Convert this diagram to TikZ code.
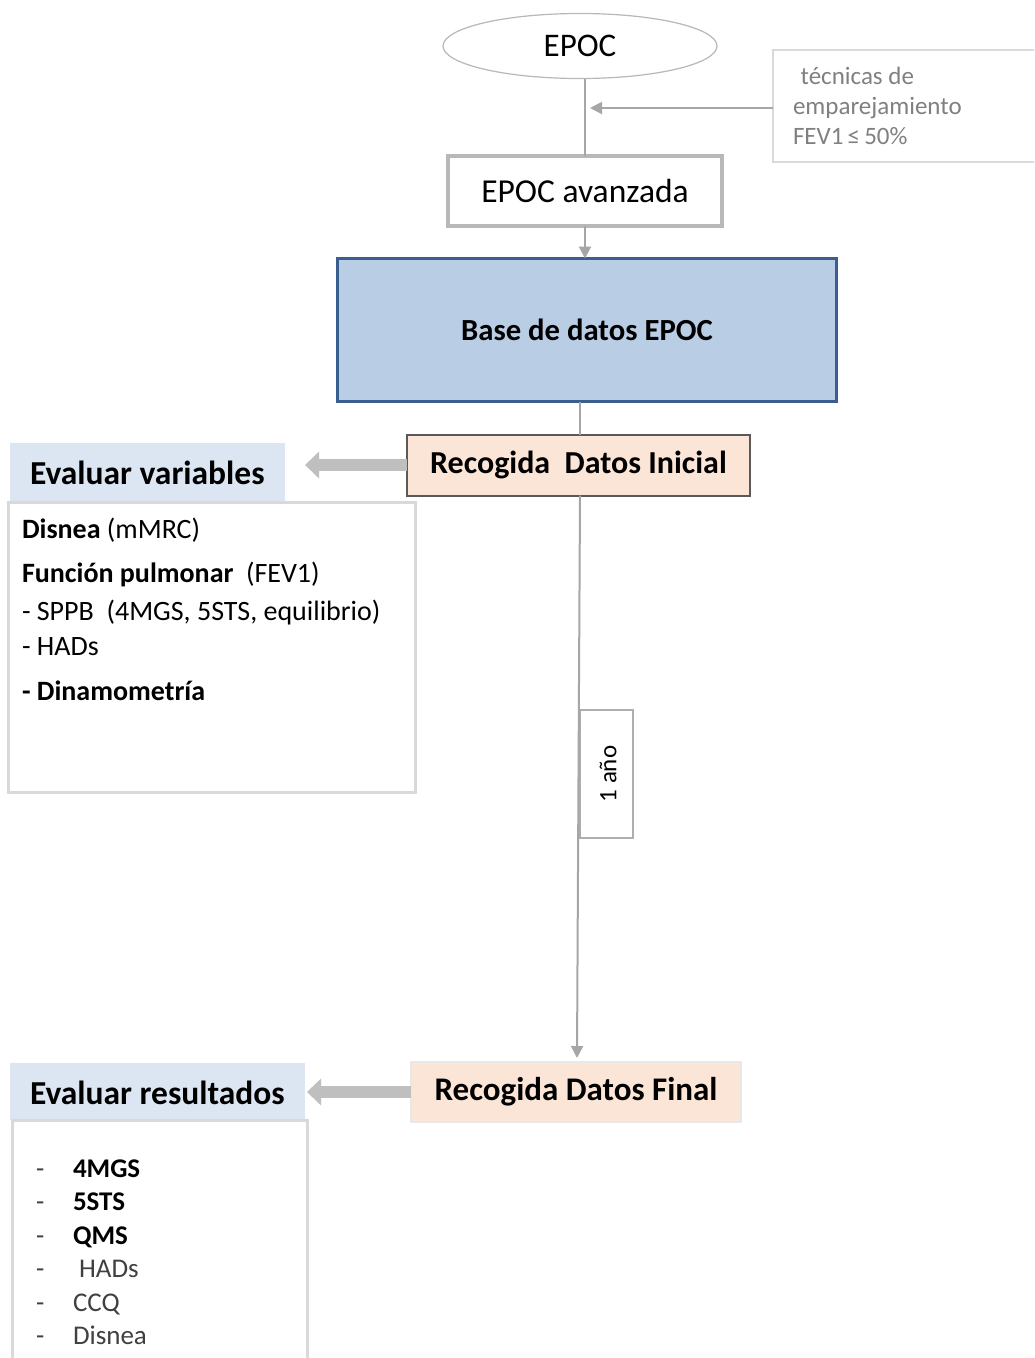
\documentclass[tikz,border=0pt]{standalone}
\usepackage{fontspec}
\setmainfont{Carlito}
\usetikzlibrary{arrows.meta,shapes.geometric}
\definecolor{linegray}{HTML}{A6A6A6}
\definecolor{notegray}{HTML}{D9D9D9}
\definecolor{notetext}{HTML}{808080}
\definecolor{dbfill}{HTML}{B9CDE5}
\definecolor{dbdraw}{HTML}{3A5F8F}
\definecolor{peach}{HTML}{FBE5D6}
\definecolor{headblue}{HTML}{DCE6F2}
\definecolor{blockgray}{HTML}{BFBFBF}
\definecolor{softtext}{HTML}{404040}
\newcommand\fsz[1]{\fontsize{#1}{#1}\selectfont}
\begin{document}
\begin{tikzpicture}[x=1pt,y=-1pt,
  thinline/.style={draw=linegray,line width=2},
  thinarrow/.style={thinline,-{Triangle[length=12,width=12]}},
  blockarrow/.style={draw=blockgray,line width=12,-{Triangle[length=14,width=26]}},
  box/.style={rectangle,inner sep=0,outer sep=0},
  txt/.style={inner sep=0,outer sep=0,anchor=base west}]
\useasboundingbox (0,0) rectangle (1034,1358);
\fill[white] (0,0) rectangle (1034,1358);

% top of the flow
\node[ellipse,draw=linegray!80,line width=1.2,minimum width=274,minimum height=65,inner sep=0] (epoc) at (580,46) {\fsz{33}EPOC};
\node[box,draw=linegray!80,line width=4,minimum width=274,minimum height=70] (avz) at (585,191) {\fsz{33.5}EPOC avanzada};
\node[box,draw=dbdraw,fill=dbfill,line width=3.5,minimum width=499,minimum height=143] (db) at (587,330) {\fsz{30.7}\bfseries Base de datos EPOC};

% side note with matching criteria
\begin{scope}
\clip (0,0) rectangle (1034,1358);
\node[box,draw=notegray,line width=2,minimum width=270,minimum height=112,anchor=north west] (note) at (773,50) {};
\end{scope}
\node[txt,text=notetext] (n1) at (795,84) {\fsz{25}\ técnicas de};
\node[txt,text=notetext] (n2) at (793,114) {\fsz{25}emparejamiento};
\node[txt,text=notetext] (n3) at (793,144) {\fsz{25}FEV1\,≤\,50\%};

\coordinate (ntip) at (590,108);
\draw[thinline] (epoc.south -| avz.north) -- (avz.north);
\draw[thinarrow] (note.west |- ntip) -- (ntip);
\draw[thinarrow] (avz.south) -- (db.north -| avz.south);

% initial data collection
\node[box,draw=black!65,fill=peach,line width=2,minimum width=343,minimum height=61] (ini) at (578.5,465) {\fsz{32}\bfseries Recogida\ \ Datos Inicial};
\draw[thinline] (db.south -| 580,0) -- (ini.north -| 580,0);

\node[box,fill=headblue,minimum width=275,minimum height=59,anchor=north west] (h1) at (10,443) {};
\node[txt,anchor=west] (h1t) at (30,473) {\fsz{33.5}\bfseries Evaluar variables};
\coordinate (h1tip) at (305,465);
\draw[blockarrow] (ini.west) -- (h1tip);

\node[box,draw=notegray,fill=white,line width=3,minimum width=407,minimum height=290,anchor=north west] (vars) at (8,502) {};
\node[txt] (v1) at (22,538) {\fsz{28}\textbf{Disnea} (mMRC)};
\node[txt] (v2) at (22,582) {\fsz{28}\textbf{Función pulmonar}\ \ (FEV1)};
\node[txt] (v3) at (22,620) {\fsz{28}- SPPB\ \ (4MGS, 5STS, equilibrio)};
\node[txt] (v4) at (22,655) {\fsz{28}- HADs};
\node[txt] (v5) at (22,700) {\fsz{28}\bfseries - Dinamometría};

% one year of follow-up
\node[box,draw=notegray!80!black,fill=white,line width=2,minimum width=53,minimum height=128,anchor=north west] (yr) at (580,710) {};
\node[rotate=90,inner sep=0] (yrt) at (608,774) {\fsz{25}1 año};

% final data collection
\node[box,draw=notegray!60,fill=peach,line width=2,minimum width=330,minimum height=60] (fin) at (576,1092) {\fsz{33}\bfseries Recogida Datos Final};
\draw[thinarrow] (ini.south -| 580,0) -- (577,1058);

\node[box,fill=headblue,minimum width=295,minimum height=57,anchor=north west] (h2) at (10,1063) {};
\node[txt,anchor=west] (h2t) at (30,1093) {\fsz{33.5}\bfseries Evaluar resultados};
\coordinate (h2tip) at (307,1092);
\draw[blockarrow] (fin.west) -- (h2tip);

\begin{scope}
\clip (0,0) rectangle (1034,1358);
\node[box,draw=notegray,fill=white,line width=3,minimum width=295,minimum height=250,anchor=north west] (res) at (12,1120) {};
\end{scope}
\foreach \y/\t [count=\i] in {1177/\textbf{4MGS},1210/\textbf{5STS},1244/\textbf{QMS},1277/\ \textcolor{softtext}{HADs},1311/\textcolor{softtext}{CCQ},1344/\textcolor{softtext}{Disnea}}{
  \node[txt,text=softtext] (d\i) at (36,\y) {\fsz{27}-};
  \node[txt] (r\i) at (73,\y) {\fsz{27}\t};
}
\end{tikzpicture}
\end{document}
